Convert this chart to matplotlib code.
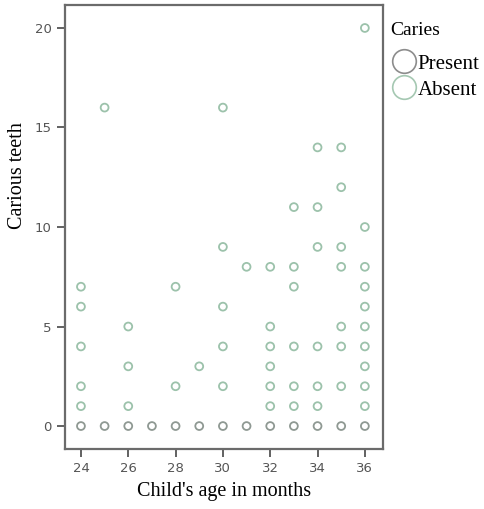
import matplotlib
matplotlib.use("Agg")
import matplotlib.pyplot as plt
from matplotlib.lines import Line2D

# child's age in months and number of carious teeth
ages = [24, 24, 24, 24, 24, 24,
        25, 25,
        26, 26, 26, 26,
        27,
        28, 28, 28,
        29, 29,
        30, 30, 30, 30, 30, 30,
        31, 31,
        32, 32, 32, 32, 32, 32, 32,
        33, 33, 33, 33, 33, 33, 33,
        34, 34, 34, 34, 34, 34, 34,
        35, 35, 35, 35, 35, 35, 35, 35,
        36, 36, 36, 36, 36, 36, 36, 36, 36, 36, 36]
teeth = [0, 1, 2, 4, 6, 7,
         0, 16,
         0, 1, 3, 5,
         0,
         0, 2, 7,
         0, 3,
         0, 2, 4, 6, 9, 16,
         0, 8,
         0, 1, 2, 3, 4, 5, 8,
         0, 1, 2, 4, 7, 8, 11,
         0, 1, 2, 4, 9, 11, 14,
         0, 2, 4, 5, 8, 9, 12, 14,
         0, 1, 2, 3, 4, 5, 6, 7, 8, 10, 20]

x_ticks = [24, 26, 28, 30, 32, 34, 36]
y_ticks = [0, 5, 10, 15, 20]

present_color = "#8f9993"
absent_color = "#9cc2ab"

fig = plt.figure(figsize=(4.84, 5.09), dpi=100)
ax = fig.add_axes([0.134, 0.118, 0.657, 0.872])

zero_x = [a for a, t in zip(ages, teeth) if t == 0]
zero_y = [t for t in teeth if t == 0]
pos_x = [a for a, t in zip(ages, teeth) if t > 0]
pos_y = [t for t in teeth if t > 0]

ax.scatter(pos_x, pos_y, s=32, facecolors="none", edgecolors=absent_color, linewidths=1.3)
ax.scatter(zero_x, zero_y, s=32, facecolors="none", edgecolors=present_color, linewidths=1.3)

ax.set_xlim(23.32, 36.76)
ax.set_ylim(-1.15, 21.15)
ax.set_xticks(x_ticks)
ax.set_yticks(y_ticks)

for s in ax.spines.values():
    s.set_color("#6b6b6b")
    s.set_linewidth(1.6)
ax.tick_params(direction="out", length=6, width=1.3, color="#555555",
               labelsize=9.5, labelcolor="#555555")

serif = ["Liberation Serif", "DejaVu Serif"]
ax.set_xlabel("Child's age in months", family=serif, fontsize=14.5, labelpad=5)
ax.set_ylabel("Carious teeth", family=serif, fontsize=14.5)
ax.yaxis.set_label_coords(-0.12, 0.615)

# legend title drawn separately so the gap under it matches
fig.text(0.806, 0.94, "Caries", family=serif, fontsize=14, va="center", ha="left")

handles = [
    Line2D([], [], marker="o", linestyle="none", markersize=17, markerfacecolor="none",
           markeredgecolor="#8c8c8c", markeredgewidth=1.2, label="Present"),
    Line2D([], [], marker="o", linestyle="none", markersize=17, markerfacecolor="none",
           markeredgecolor="#a5c8b2", markeredgewidth=1.2, label="Absent"),
]
leg = fig.legend(handles=handles, loc="upper left",
                 bbox_to_anchor=(0.796, 0.906), frameon=False,
                 prop={"family": serif, "size": 15}, handletextpad=0.05,
                 labelspacing=0.3, borderpad=0.2, handlelength=1.2,
                 borderaxespad=0.1)

fig.savefig("out.png", dpi=100, facecolor="white")
